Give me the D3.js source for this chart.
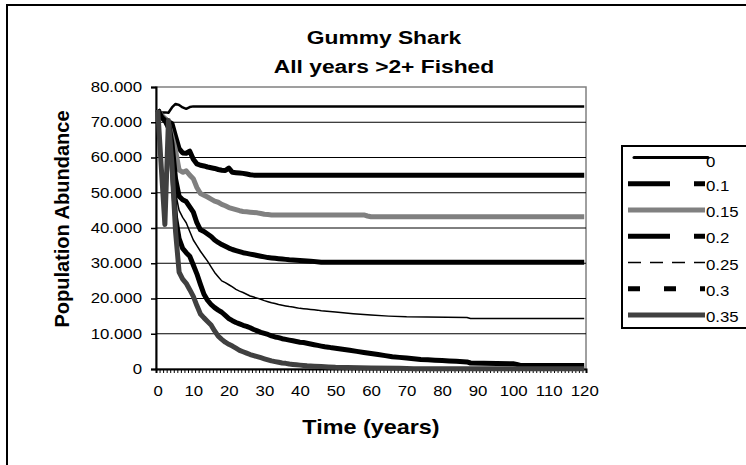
<!DOCTYPE html>
<html>
<head>
<meta charset="utf-8">
<script src="https://cdn.jsdelivr.net/npm/d3@7"></script>
<style>
  body { margin: 0; background: #fff; }
  svg text { font-family: "Liberation Sans", Arial, sans-serif; fill: #000; }
</style>
</head>
<body>
<div id="chart"></div>
<script>
        var width = 746;
        var height = 465;
        var stretch = 1.2;   // the original chart's text is drawn a bit wide

        // series names (fishing mortality)
        var seriesNames = ["0", "0.1", "0.15", "0.2", "0.25", "0.3", "0.35"];

        // [year, abundance in thousands]
        var f0 = [[0,73.0],[1,72.8],[2,72.8],[3,72.7],[4,74.2],[5,75.2],[6,74.9],[7,74.2],[8,73.8],[9,74.3],[10,74.5],[120,74.5]];

        var f010 = [[0,73.5],[1,72],[2,71],[3,70.2],[4,69.6],[5,66],[6,62.5],[7,61.3],[8,61.2],[9,61.8],[10,59.5],[11,58.2],
                    [12,57.8],[13,57.6],[14,57.3],[15,57.1],[16,56.9],[17,56.6],[18,56.4],[19,56.3],[20,57],[21,55.8],
                    [22,55.7],[23,55.6],[24,55.5],[25,55.3],[26,55.1],[27,55.0],[120,55.0]];

        var f015 = [[0,73.5],[1,72],[2,71],[3,69.5],[4,66],[5,62],[6,56.5],[7,55.8],[8,56.2],[9,55],[10,54],[11,51.5],
                    [12,49.8],[13,49.3],[14,48.8],[15,48.2],[16,47.6],[17,47.3],[18,46.7],[19,46.3],[20,45.8],[21,45.5],
                    [22,45.2],[23,44.9],[24,44.7],[25,44.6],[26,44.5],[27,44.4],[28,44.3],[29,44.1],[30,43.9],[31,43.8],
                    [32,43.7],[58,43.7],[59,43.4],[60,43.2],[120,43.2]];

        var f020 = [[0,73.5],[1,71.5],[2,70.5],[3,69.8],[4,64],[5,54],[6,49],[7,48],[8,47.5],[9,46],[10,44.5],[11,41.5],
                    [12,39.5],[13,39],[14,38.3],[15,37.6],[16,36.6],[17,35.9],[18,35.3],[19,34.8],[20,34.3],[21,33.9],
                    [22,33.6],[23,33.3],[24,33.0],[25,32.8],[26,32.6],[27,32.4],[28,32.2],[29,32.0],[30,31.8],[31,31.6],
                    [32,31.5],[33,31.4],[34,31.3],[35,31.2],[36,31.1],[37,31.0],[40,30.8],[43,30.6],[46,30.3],[120,30.3]];

        var f025 = [[0,73.5],[1,71.5],[2,70.5],[3,69.5],[4,60],[5,50],[6,45],[7,43],[8,41.5],[9,39],[10,36.6],[11,35],
                    [12,33.4],[13,32],[14,30.6],[15,29],[16,27.4],[17,26.2],[18,25],[19,24.5],[20,23.9],[21,23.3],
                    [22,22.6],[23,22.1],[24,21.7],[25,21.2],[26,20.7],[27,20.4],[28,20.1],[29,19.8],[30,19.4],[31,19.1],
                    [32,18.8],[33,18.6],[34,18.3],[35,18.1],[36,17.9],[37,17.7],[38,17.6],[39,17.4],[40,17.2],[41,17.1],
                    [42,17.0],[43,16.9],[44,16.8],[45,16.7],[46,16.5],[50,16.2],[55,15.7],[60,15.3],[65,15.0],[70,14.8],
                    [87,14.6],[88,14.3],[120,14.3]];

        var f030 = [[0,73.5],[1,71.5],[2,70.5],[3,68.5],[4,58],[5,43],[6,37],[7,34.2],[8,33],[9,32],[10,29.5],[11,27],
                    [12,24],[13,21.2],[14,19.5],[15,18.3],[16,17.4],[17,16.7],[18,16.1],[19,15.2],[20,14.3],[21,13.7],
                    [22,13.2],[23,12.8],[24,12.4],[25,12.1],[26,11.7],[27,11.2],[28,10.8],[29,10.4],[30,10.1],[31,9.8],
                    [32,9.4],[33,9.1],[34,8.9],[35,8.6],[36,8.4],[37,8.2],[38,8.0],[39,7.8],[40,7.6],[41,7.5],[42,7.3],
                    [43,7.1],[44,6.9],[45,6.7],[46,6.5],[47,6.3],[48,6.2],[49,6.0],[50,5.9],[52,5.6],[54,5.3],[56,5.0],
                    [58,4.7],[60,4.4],[62,4.1],[64,3.8],[66,3.5],[68,3.3],[70,3.1],[72,2.9],[74,2.7],[76,2.6],[78,2.5],
                    [80,2.4],[82,2.3],[84,2.2],[87,2.0],[88,1.7],[100,1.5],[101,1.3],[102,1.0],[120,1.0]];

        var f035 = [[0,73.5],[1,57],[2,41],[3,70.5],[4,58],[5,39],[6,27.5],[7,25.5],[8,24.3],[9,22.5],[10,20.6],[11,18],
                    [12,15.6],[13,14.5],[14,13.5],[15,12.5],[16,10.8],[17,9.3],[18,8.4],[19,7.6],[20,7],[21,6.5],
                    [22,5.9],[23,5.3],[24,4.9],[25,4.5],[26,4.1],[27,3.8],[28,3.5],[29,3.2],[30,2.9],[31,2.6],[32,2.3],
                    [33,2.1],[34,1.9],[35,1.7],[36,1.6],[37,1.4],[38,1.3],[39,1.2],[40,1.1],[41,1.0],[42,0.9],[44,0.8],
                    [46,0.7],[48,0.6],[50,0.5],[60,0.3],[68,0.2],[72,0.05],[120,0.05]];

        var seriesData = [f0, f010, f015, f020, f025, f030, f035];

        var yTicks = [0, 10, 20, 30, 40, 50, 60, 70, 80];
        var xLabels = [0, 10, 20, 30, 40, 50, 60, 70, 80, 90, 100, 110, 120];

        var colors = ["#000", "#000", "#808080", "#000", "#000", "#000", "#404040"];
        var widths = [2.5, 5, 5, 5, 1.5, 5, 5];
        var legendDash = [null, "42,24", null, "42,24", "13,9", "12,24", null];

        var svg = d3.select("#chart")
                    .append("svg")
                    .attr("width", width)
                    .attr("height", height);

        svg.append("rect")
            .attr("width", width).attr("height", height)
            .attr("fill", "#fff");

        // outer chart border (right and bottom edges fall outside the picture)
        svg.append("rect")
            .attr("x", 7).attr("y", 5)
            .attr("width", 800).attr("height", 500)
            .attr("fill", "none")
            .attr("stroke", "#000")
            .attr("stroke-width", 2);

        var x = d3.scaleLinear().domain([-0.5, 120.5]).range([156, 586]);
        var y = d3.scaleLinear().domain([0, 80]).range([369, 87]);

        // plot frame
        svg.append("rect")
            .attr("x", x(-0.5)).attr("y", y(80))
            .attr("width", x(120.5) - x(-0.5)).attr("height", y(0) - y(80))
            .attr("fill", "#fff")
            .attr("stroke", "#808080")
            .attr("stroke-width", 1.5);

        // gridlines
        svg.append("g").selectAll("line")
            .data(yTicks.filter(function(d){ return d > 0 && d < 80; }))
            .enter().append("line")
            .attr("x1", x(-0.5)).attr("x2", x(120.5))
            .attr("y1", function(d){ return y(d); })
            .attr("y2", function(d){ return y(d); })
            .attr("stroke", "#000")
            .attr("stroke-width", 1);

        // y axis
        var yAxis = d3.axisLeft(y)
            .tickValues(yTicks)
            .tickSize(5)
            .tickFormat(function(d){ return d === 0 ? "0" : d3.format(".3f")(d); });

        var yg = svg.append("g")
            .attr("transform", "translate(" + x(-0.5) + ",0)")
            .call(yAxis);
        yg.select(".domain").attr("stroke", "#000").attr("stroke-width", 2);
        yg.selectAll(".tick line").attr("stroke", "#000").attr("stroke-width", 1.5);
        yg.selectAll("text")
            .style("font-size", "14px")
            .attr("x", -14 / stretch)
            .attr("transform", "scale(" + stretch + ",1)");

        // x axis: a tick at every category boundary
        var xMinor = d3.axisBottom(x)
            .tickValues(d3.range(-0.5, 121, 1))
            .tickSize(4)
            .tickFormat("");
        var xg = svg.append("g")
            .attr("transform", "translate(0," + y(0) + ")")
            .call(xMinor);
        xg.select(".domain").attr("stroke", "#000").attr("stroke-width", 2);
        xg.selectAll(".tick line").attr("stroke", "#000").attr("stroke-width", 1);

        var xLab = d3.axisBottom(x)
            .tickValues(xLabels)
            .tickSize(0)
            .tickPadding(17);
        var xl = svg.append("g")
            .attr("transform", "translate(0," + y(0) + ")")
            .call(xLab);
        xl.select(".domain").remove();
        xl.selectAll("text")
            .style("font-size", "14px")
            .attr("transform", "scale(" + stretch + ",1)");

        // series
        var line = d3.line()
            .x(function(d){ return x(d[0]); })
            .y(function(d){ return y(d[1]); });

        svg.append("g").selectAll("path")
            .data(seriesData)
            .enter().append("path")
            .attr("d", line)
            .attr("fill", "none")
            .attr("stroke", function(d, i){ return colors[i]; })
            .attr("stroke-width", function(d, i){ return widths[i]; })
            .attr("stroke-linejoin", "round");

        function wideText(px, py, size, str) {
            return svg.append("text")
                .attr("transform", "translate(" + px + "," + py + ") scale(" + stretch + ",1)")
                .attr("text-anchor", "middle")
                .style("font-size", size + "px")
                .style("font-weight", "bold")
                .text(str);
        }

        // titles
        wideText(384, 44, 19, "Gummy Shark");
        wideText(384, 73, 19, "All years >2+ Fished");
        wideText(371, 434, 19.5, "Time (years)");

        svg.append("text")
            .attr("transform", "translate(62,219) rotate(-90)")
            .attr("text-anchor", "middle")
            .attr("dy", "0.35em")
            .style("font-size", "20px").style("font-weight", "bold")
            .text("Population Abundance");

        // legend
        var legend = svg.append("g");
        legend.append("rect")
            .attr("x", 622).attr("y", 146)
            .attr("width", 140).attr("height", 182)
            .attr("fill", "#fff")
            .attr("stroke", "#000")
            .attr("stroke-width", 2);

        var rowY = d3.scaleLinear().domain([0, 6]).range([157.5, 315]);

        var rows = legend.selectAll("g.row")
            .data(seriesNames)
            .enter().append("g")
            .attr("class", "row")
            .attr("transform", function(d, i){ return "translate(0," + rowY(i) + ")"; });

        rows.append("line")
            .attr("x1", function(d, i){ return i === 0 ? 634 : 628; })
            .attr("x2", function(d, i){ return i === 0 ? 708 : 705; })
            .attr("stroke", function(d, i){ return colors[i]; })
            .attr("stroke-width", function(d, i){ return i === 0 ? 3 : (i === 4 ? 1.5 : 5); })
            .attr("stroke-linecap", function(d, i){ return i === 0 ? "round" : "butt"; })
            .attr("stroke-dasharray", function(d, i){ return legendDash[i]; });

        rows.append("text")
            .attr("transform", function(d, i){ return "translate(706," + (i === 0 ? 9 : 7) + ") scale(" + stretch + ",1)"; })
            .style("font-size", "14px")
            .text(function(d){ return d; });
</script>
</body>
</html>
